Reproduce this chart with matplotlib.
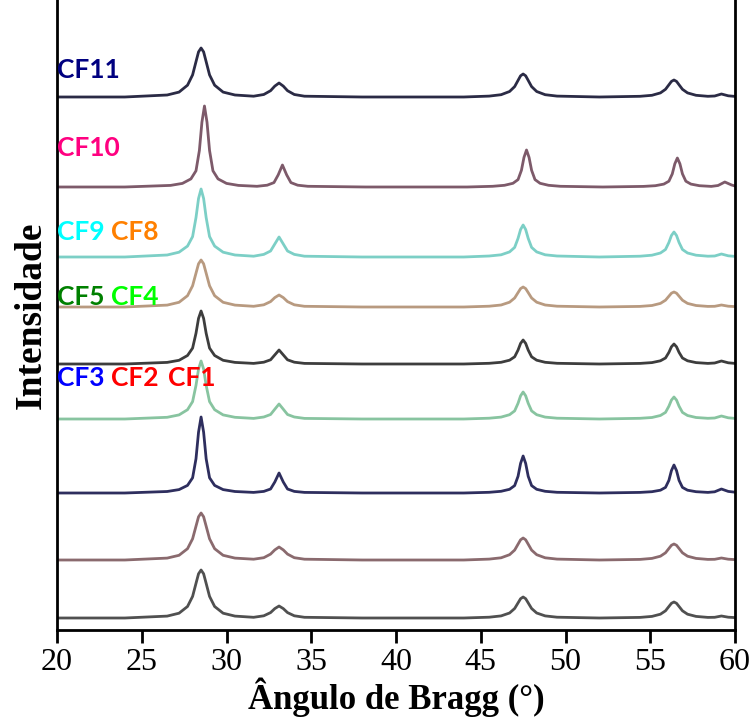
# XRD patterns of the CF samples, stacked with vertical offsets
import matplotlib.pyplot as plt

# 2-theta positions (deg) sampled for the patterns
two_theta = [20, 24, 26.5, 27.2, 27.7, 28.0, 28.2, 28.35, 28.5, 28.65, 28.8, 29.0, 29.3, 29.8, 30.5,
             31.6, 32.2, 32.6, 32.85, 33.1, 33.35, 33.6, 34.0, 34.6, 38, 44,
             45.5, 46.2, 46.7, 47.0, 47.2, 47.35, 47.5, 47.65, 47.8, 48.0, 48.3, 48.8, 49.5, 52,
             54.4, 55.1, 55.6, 55.9, 56.1, 56.25, 56.4, 56.55, 56.7, 56.9, 57.2, 57.7, 58.4,
             58.8, 59.2, 59.6, 60]
# CF10 peaks sit ~0.2 deg higher
two_theta_cf10 = [20, 24, 26.7, 27.4, 27.9, 28.2, 28.4, 28.55, 28.7, 28.85, 29.0, 29.2, 29.5, 30.0, 30.7,
                  31.8, 32.4, 32.8, 33.05, 33.3, 33.55, 33.8, 34.2, 34.8, 38.2, 44.2,
                  45.7, 46.4, 46.9, 47.2, 47.4, 47.55, 47.7, 47.85, 48.0, 48.2, 48.5, 49.0, 49.7, 52.2,
                  54.6, 55.3, 55.8, 56.1, 56.3, 56.45, 56.6, 56.75, 56.9, 57.1, 57.4, 57.9, 58.6,
                  59.0, 59.4, 59.8, 60]

# intensity above each pattern's own baseline (a.u.), top pattern first
i_cf11 = [0, 0,
          2.0, 4.9, 11.8, 22.1, 35.3, 45.1, 49, 45.1, 35.3, 22.1, 11.8, 4.9, 2.0,
          0.8, 2.5, 6.3, 10.9, 14, 10.9, 6.3, 2.5, 0.8, 0, 0,
          0.9, 2.3, 5.5, 10.4, 16.6, 21.2, 23, 21.2, 16.6, 10.4, 5.5, 2.3, 0.9, 0,
          0.7, 1.7, 4.1, 7.7, 12.2, 15.6, 17, 15.6, 12.2, 7.7, 4.1, 1.7, 0.7,
          1.0, 3, 1.2, 0.6]
i_cf10 = [0, 0,
          1.6, 3.6, 8.1, 16.2, 36.5, 64.8, 81, 64.8, 36.5, 16.2, 8.1, 3.6, 1.6,
          0.7, 1.8, 4.4, 12.1, 22, 12.1, 4.4, 1.8, 0.7, 0, 0,
          0.7, 1.7, 3.7, 7.4, 16.7, 29.6, 37, 29.6, 16.7, 7.4, 3.7, 1.7, 0.7, 0,
          0.6, 1.3, 2.9, 5.8, 13.1, 23.2, 29, 23.2, 13.1, 5.8, 2.9, 1.3, 0.6,
          1.5, 5, 2, 1]
i_cf9 = [0, 0,
         2.0, 4.8, 10.9, 20.4, 39.4, 58.5, 68, 58.5, 39.4, 20.4, 10.9, 4.8, 2.0,
         0.8, 2.6, 6, 13, 20, 13, 6, 2.6, 0.8, 0, 0,
         1.0, 2.2, 5.1, 9.6, 18.6, 27.5, 32, 27.5, 18.6, 9.6, 5.1, 2.2, 1.0, 0,
         0.8, 1.8, 4.0, 7.5, 14.5, 21.5, 25, 21.5, 14.5, 7.5, 4.0, 1.8, 0.8,
         1.0, 3, 1.2, 0.6]
i_cf8 = [0, 0,
         1.9, 4.7, 11.3, 21.2, 33.8, 43.2, 47, 43.2, 33.8, 21.2, 11.3, 4.7, 1.9,
         0.7, 2.2, 5.4, 9.4, 12, 9.4, 5.4, 2.2, 0.7, 0, 0,
         0.8, 2.0, 4.8, 9, 14.4, 18.4, 20, 18.4, 14.4, 9, 4.8, 2.0, 0.8, 0,
         0.6, 1.5, 3.6, 6.8, 10.8, 13.8, 15, 13.8, 10.8, 6.8, 3.6, 1.5, 0.6,
         0.7, 2, 0.8, 0.4]
i_cf5 = [0, 0,
         1.6, 3.7, 8.5, 15.9, 30.7, 45.6, 53, 45.6, 30.7, 15.9, 8.5, 3.7, 1.6,
         0.6, 1.8, 4.2, 9.1, 14, 9.1, 4.2, 1.8, 0.6, 0, 0,
         0.7, 1.7, 3.8, 7.2, 13.9, 20.6, 24, 20.6, 13.9, 7.2, 3.8, 1.7, 0.7, 0,
         0.6, 1.4, 3.2, 6, 11.6, 17.2, 20, 17.2, 11.6, 6, 3.2, 1.4, 0.6,
         1.0, 3, 1.2, 0.6]
i_cf4 = [0, 0,
         1.7, 4.1, 9.3, 17.4, 33.6, 49.9, 58, 49.9, 33.6, 17.4, 9.3, 4.1, 1.7,
         0.6, 2.0, 4.5, 9.8, 15, 9.8, 4.5, 2.0, 0.6, 0, 0,
         0.8, 1.9, 4.3, 8.1, 15.7, 23.2, 27, 23.2, 15.7, 8.1, 4.3, 1.9, 0.8, 0,
         0.7, 1.5, 3.5, 6.6, 12.8, 18.9, 22, 18.9, 12.8, 6.6, 3.5, 1.5, 0.7,
         1.0, 3, 1.2, 0.6]
i_cf3 = [0, 0,
         1.5, 3.4, 7.6, 15.2, 34.2, 60.8, 76, 60.8, 34.2, 15.2, 7.6, 3.4, 1.5,
         0.6, 1.6, 4, 11, 20, 11, 4, 1.6, 0.6, 0, 0,
         0.7, 1.7, 3.7, 7.4, 16.7, 29.6, 37, 29.6, 16.7, 7.4, 3.7, 1.7, 0.7, 0,
         0.6, 1.3, 2.8, 5.6, 12.6, 22.4, 28, 22.4, 12.6, 5.6, 2.8, 1.3, 0.6,
         1.2, 4, 1.6, 0.8]
i_cf2 = [0, 0,
         1.9, 4.7, 11.3, 21.2, 33.8, 43.2, 47, 43.2, 33.8, 21.2, 11.3, 4.7, 1.9,
         0.8, 2.3, 5.9, 10.1, 13, 10.1, 5.9, 2.3, 0.8, 0, 0,
         0.9, 2.2, 5.3, 9.9, 15.8, 20.2, 22, 20.2, 15.8, 9.9, 5.3, 2.2, 0.9, 0,
         0.6, 1.6, 3.8, 7.2, 11.5, 14.7, 16, 14.7, 11.5, 7.2, 3.8, 1.6, 0.6,
         0.7, 2, 0.8, 0.4]
i_cf1 = [0, 0,
         1.9, 4.8, 11.5, 21.6, 34.6, 44.2, 48, 44.2, 34.6, 21.6, 11.5, 4.8, 1.9,
         0.7, 2.2, 5.4, 9.4, 12, 9.4, 5.4, 2.2, 0.7, 0, 0,
         0.8, 2.1, 5.0, 9.5, 15.1, 19.3, 21, 19.3, 15.1, 9.5, 5.0, 2.1, 0.8, 0,
         0.6, 1.6, 3.8, 7.2, 11.5, 14.7, 16, 14.7, 11.5, 7.2, 3.8, 1.6, 0.6,
         0.7, 2, 0.8, 0.4]

patterns = [i_cf11, i_cf10, i_cf9, i_cf8, i_cf5, i_cf4, i_cf3, i_cf2, i_cf1]
offsets = [533, 443, 373, 323, 266, 211, 137, 70, 12]
line_colors = ['#2b2b45', '#7d5a6a', '#7ccfc6', '#b89a80', '#3d3d3d',
               '#88c4a0', '#2e2e5e', '#8a6a6e', '#505050']

# sample labels: (text, colour, x start in deg, y in a.u.)
labels = [('CF11', '#000080', 20.0, 560),
          ('CF10', '#ff0080', 20.0, 482),
          ('CF9', '#00ffff', 20.0, 398), ('CF8', '#ff8000', 23.2, 398),
          ('CF5', '#008000', 20.0, 333), ('CF4', '#00ff00', 23.2, 333),
          ('CF3', '#0000ff', 20.0, 252), ('CF2', '#ff0000', 23.2, 252),
          ('CF1', '#ff0000', 26.55, 252)]

fig = plt.figure(figsize=(7.52, 7.17), dpi=100)
ax = fig.add_axes([57/752, 87/717, 678/752, 630/717])

for k, (pat, off, col) in enumerate(zip(patterns, offsets, line_colors)):
    xs = two_theta_cf10 if k == 1 else two_theta
    ax.plot(xs, [v + off for v in pat], color=col, lw=2.0, solid_joinstyle='round')

for txt, col, x, y in labels:
    ax.text(x, y, txt, color=col, fontsize=19, fontweight='bold',
            family=['Lato', 'DejaVu Sans'], ha='left', va='center')

ax.set_xlim(20, 60)
ax.set_ylim(0, 630)
ax.set_xticks(range(20, 61, 5))
ax.set_yticks([])
ax.spines['top'].set_visible(False)
for s in ['left', 'right', 'bottom']:
    ax.spines[s].set_linewidth(2)
ax.tick_params(axis='x', direction='out', length=9, width=2, pad=4, labelsize=23)
for lab in ax.get_xticklabels():
    lab.set_family('Liberation Serif')

ax.set_xlabel('Ângulo de Bragg (°)', family='Liberation Serif', fontweight='bold',
              fontsize=25, labelpad=0)
ax.set_ylabel('Intensidade', family='Liberation Serif', fontweight='bold',
              fontsize=27, labelpad=6)

fig.savefig('out.png', dpi=100)
